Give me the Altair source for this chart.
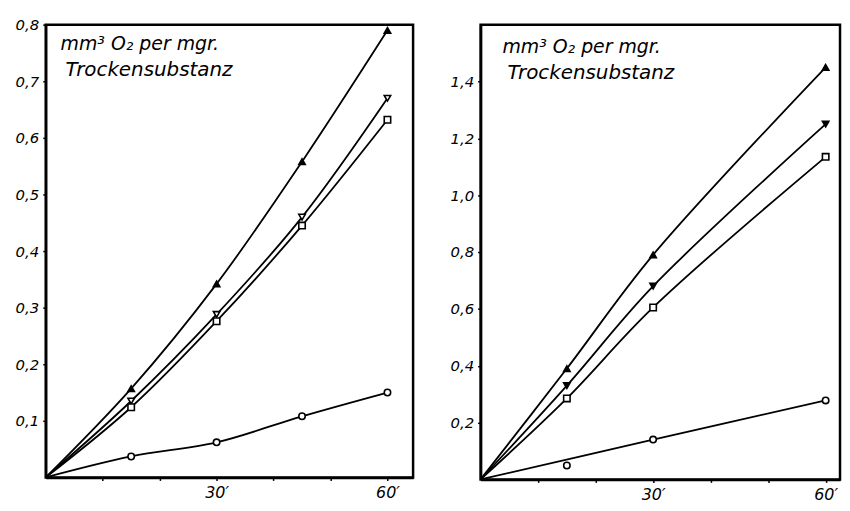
import altair as alt
import pandas as pd

# ---- data ----
time_left = [0, 15, 30, 45, 60]
left_filled_tri = [0, 0.157, 0.342, 0.558, 0.790]
left_open_invtri = [0, 0.135, 0.288, 0.460, 0.670]
left_open_square = [0, 0.124, 0.276, 0.445, 0.632]
left_open_circle = [0, 0.037, 0.062, 0.108, 0.150]

time_right = [0, 15, 30, 60]
right_filled_tri = [0, 0.390, 0.790, 1.450]
right_filled_invtri = [0, 0.330, 0.680, 1.250]
right_open_square = [0, 0.285, 0.605, 1.135]
right_open_circle = [0, 0.049, 0.140, 0.278]
right_circle_on_line = [True, False, True, True]

left_ticks_y = [0.1, 0.2, 0.3, 0.4, 0.5, 0.6, 0.7, 0.8]
right_ticks_y = [0.2, 0.4, 0.6, 0.8, 1.0, 1.2, 1.4]
ticks_x = [10, 20, 30, 40, 50, 60]
label_line1 = "mm³ O₂ per  mgr."
label_line2 = "Trockensubstanz"

FONT = "DejaVu Sans"


def rows(times, values, series, shape, fill, on_line=None):
    out = []
    for i, (t, v) in enumerate(zip(times, values)):
        out.append({
            "series": series, "t": t, "v": v,
            "shape": shape, "fill": fill,
            "marker": t != 0,
            "online": True if on_line is None else on_line[i],
        })
    return out


left_df = pd.DataFrame(
    rows(time_left, left_filled_tri, "a", "triangle-up", "black")
    + rows(time_left, left_open_invtri, "b", "triangle-down", "white")
    + rows(time_left, left_open_square, "c", "square", "white")
    + rows(time_left, left_open_circle, "d", "circle", "white")
)
right_df = pd.DataFrame(
    rows(time_right, right_filled_tri, "a", "triangle-up", "black")
    + rows(time_right, right_filled_invtri, "b", "triangle-down", "black")
    + rows(time_right, right_open_square, "c", "square", "white")
    + rows(time_right, right_open_circle, "d", "circle", "white", right_circle_on_line)
)

label_expr_y = "replace(format(datum.value, '.1f'), '.', ',')"
label_expr_x = "datum.value == 30 ? '30′' : (datum.value == 60 ? '60′' : '')"


def panel(df, xmax, ymax, yticks, width, height, tx, ty):
    x = alt.X("t:Q", scale=alt.Scale(domain=[0, xmax], nice=False, zero=True),
              axis=alt.Axis(values=ticks_x, labelExpr=label_expr_x, title=None,
                            grid=False, tickSize=3, labelPadding=4,
                            labelFontSize=16, labelFontStyle="italic",
                            labelFont=FONT, domainColor="black",
                            domainWidth=2.5, tickColor="black", tickWidth=1.5,
                            labelColor="black"))
    y = alt.Y("v:Q", scale=alt.Scale(domain=[0, ymax], nice=False),
              axis=alt.Axis(values=yticks, labelExpr=label_expr_y, title=None,
                            grid=False, tickSize=3, labelPadding=4,
                            labelFontSize=15, labelFontStyle="italic",
                            labelFont=FONT, domainColor="black",
                            domainWidth=2.5, tickColor="black", tickWidth=1.5,
                            labelColor="black", minExtent=30, maxExtent=30))
    base = alt.Chart(df)
    lines = base.transform_filter("datum.online").mark_line(
        color="black", strokeWidth=1.8, interpolate="catmull-rom"
    ).encode(x=x, y=y, detail="series:N", order="t:Q")
    pts = base.transform_filter("datum.marker").mark_point(
        size=42, strokeWidth=1.6, stroke="black", opacity=1, filled=False
    ).encode(
        x=x, y=y,
        shape=alt.Shape("shape:N", scale=None),
        fill=alt.Fill("fill:N", scale=None),
    )
    txt_df = pd.DataFrame({"line": [label_line1, label_line2], "i": [0, 1]})
    t1 = alt.Chart(txt_df[txt_df.i == 0]).mark_text(
        align="left", baseline="middle", font=FONT, fontSize=19,
        fontStyle="italic", color="black"
    ).encode(text="line:N", x=alt.value(tx), y=alt.value(ty))
    t2 = alt.Chart(txt_df[txt_df.i == 1]).mark_text(
        align="left", baseline="middle", font=FONT, fontSize=20,
        fontStyle="italic", color="black"
    ).encode(text="line:N", x=alt.value(tx + 5), y=alt.value(ty + 26))
    return alt.layer(lines, pts, t1, t2).properties(width=width, height=height)


left = panel(left_df, 64.5, 0.8, left_ticks_y, 370, 456, 15, 20)
right = panel(right_df, 62.5, 1.6, right_ticks_y, 362, 458, 22, 23)

chart = alt.hconcat(left, right, spacing=33).properties(
    padding={"left": 5, "top": 6, "right": 0, "bottom": 0},
    background="white",
).configure_view(stroke="black", strokeWidth=2.5)

chart.save("out.html", embed_options={"renderer": "svg", "actions": False})
